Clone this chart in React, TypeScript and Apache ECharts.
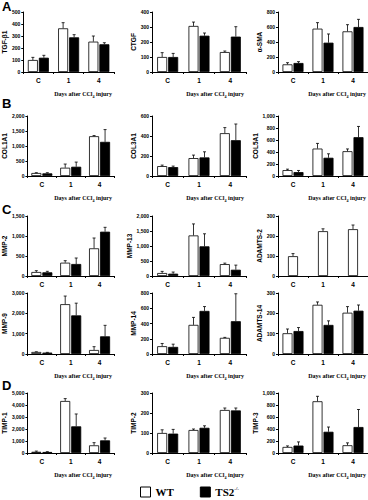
import React, { useEffect, useRef } from "react";
import * as echarts from "echarts";

// ---- data ----
const categories = ["C", "1", "4"];

const tgfWT = [100, 364, 253];
const tgfWTErr = [22, 47, 47];
const tgfTS = [119, 289, 231];
const tgfTSErr = [20, 22, 13];

const ctgfWT = [100, 307, 133];
const ctgfWTErr = [29, 26, 7];
const ctgfTS = [100, 242, 236];
const ctgfTSErr = [24, 18, 66];

const smaWT = [102, 578, 542];
const smaWTErr = [22, 80, 89];
const smaTS = [120, 391, 600];
const smaTSErr = [18, 116, 102];

const col1WT = [100, 276, 1326];
const col1WTErr = [10, 122, 22];
const col1TS = [88, 309, 1138];
const col1TSErr = [22, 155, 409];

const col3WT = [99, 179, 428];
const col3WTErr = [10, 30, 56];
const col3TS = [89, 186, 358];
const col3TSErr = [10, 56, 162];

const col5WT = [98, 457, 413];
const col5WTErr = [16, 86, 38];
const col5TS = [65, 304, 647];
const col5TSErr = [27, 66, 179];

const mmp2WT = [100, 333, 692];
const mmp2WTErr = [33, 50, 258];
const mmp2TS = [92, 300, 1108];
const mmp2TSErr = [25, 150, 109];

const mmp13WT = [99, 1352, 396];
const mmp13WTErr = [55, 384, 33];
const mmp13TS = [77, 989, 209];
const mmp13TSErr = [55, 418, 154];

const adamts2WT = [99, 224, 234];
const adamts2WTErr = [13, 12, 21];

const mmp9WT = [100, 2450, 197];
const mmp9WTErr = [10, 400, 163];
const mmp9TS = [70, 1900, 869];
const mmp9TSErr = [10, 600, 541];

const mmp14WT = [102, 382, 212];
const mmp14WTErr = [36, 98, 6];
const mmp14TS = [93, 565, 430];
const mmp14TSErr = [36, 57, 360];

const adamts14WT = [102, 242, 203];
const adamts14WTErr = [21, 14, 30];
const adamts14TS = [113, 143, 213];
const adamts14TSErr = [17, 20, 28];

const timp1WT = [100, 4333, 639];
const timp1WTErr = [60, 200, 222];
const timp1TS = [83, 2222, 1055];
const timp1TSErr = [28, 1030, 195];

const timp2WT = [100, 115, 215];
const timp2WTErr = [16, 5, 10];
const timp2TS = [97, 126, 213];
const timp2TSErr = [21, 10, 12];

const timp3WT = [101, 862, 129];
const timp3WTErr = [17, 83, 40];
const timp3TS = [124, 354, 433];
const timp3TSErr = [61, 79, 292];

const yNames = [
  "TGF-β1", "CTGF", "α-SMA",
  "COL1A1", "COL3A1", "COL5A1",
  "MMP-2", "MMP-13", "ADAMTS-2",
  "MMP-9", "MMP-14", "ADAMTS-14",
  "TIMP-1", "TIMP-2", "TIMP-3",
];
const yMax = [500, 400, 800, 2000, 600, 1000, 1500, 2000, 300, 3000, 800, 300, 5000, 300, 1000];
const yStep = [100, 100, 200, 500, 200, 200, 500, 500, 100, 1000, 200, 100, 1000, 100, 200];
const wtValues = [tgfWT, ctgfWT, smaWT, col1WT, col3WT, col5WT, mmp2WT, mmp13WT, adamts2WT, mmp9WT, mmp14WT, adamts14WT, timp1WT, timp2WT, timp3WT];
const wtErrors = [tgfWTErr, ctgfWTErr, smaWTErr, col1WTErr, col3WTErr, col5WTErr, mmp2WTErr, mmp13WTErr, adamts2WTErr, mmp9WTErr, mmp14WTErr, adamts14WTErr, timp1WTErr, timp2WTErr, timp3WTErr];
const tsValues = [tgfTS, ctgfTS, smaTS, col1TS, col3TS, col5TS, mmp2TS, mmp13TS, null, mmp9TS, mmp14TS, adamts14TS, timp1TS, timp2TS, timp3TS];
const tsErrors = [tgfTSErr, ctgfTSErr, smaTSErr, col1TSErr, col3TSErr, col5TSErr, mmp2TSErr, mmp13TSErr, null, mmp9TSErr, mmp14TSErr, adamts14TSErr, timp1TSErr, timp2TSErr, timp3TSErr];
const showDaysTitle = [true, true, true, true, true, true, false, false, false, true, true, true, true, true, true];
const panelLetters = ["A", "B", "C", "D"];

// ---- layout ----
const rowTops = [12, 116, 216, 293, 393];
const rowHeights = [60, 60, 60, 61, 60];
const colLefts = [23, 152, 278];
const colWidths = [91, 94, 90];
const letterTops = [0, 97, 203, 379];
const BAR_W = 10;
const SANS = "'Liberation Sans', Arial, sans-serif";
const SERIF = "'Liberation Serif', 'Times New Roman', serif";

function buildOption() {
  const grid: any[] = [];
  const xAxis: any[] = [];
  const yAxis: any[] = [];
  const series: any[] = [];
  const graphic: any[] = [];

  yNames.forEach((name, i) => {
    const row = Math.floor(i / 3);
    const col = i % 3;
    const left = colLefts[col];
    const top = rowTops[row];
    const width = colWidths[col];
    const height = rowHeights[row];
    grid.push({ left, top, width, height, containLabel: false });
    xAxis.push({
      type: "category",
      gridIndex: i,
      data: categories,
      axisLine: { lineStyle: { color: "#000", width: 1 } },
      axisTick: { show: true, length: 2, lineStyle: { color: "#000" } },
      axisLabel: { color: "#000", fontSize: 6.5, fontWeight: "bold", fontFamily: SANS, margin: 5 },
      splitLine: { show: false },
    });
    yAxis.push({
      type: "value",
      gridIndex: i,
      min: 0,
      max: yMax[i],
      interval: yStep[i],
      name,
      nameLocation: "middle",
      nameGap: 12,
      nameRotate: 90,
      nameTextStyle: { color: "#000", fontSize: 6.5, fontWeight: "bold", fontFamily: SANS },
      axisLine: { show: true, lineStyle: { color: "#000", width: 1 } },
      axisTick: { show: true, length: 2, lineStyle: { color: "#000" } },
      axisLabel: { color: "#000", fontSize: 5, fontWeight: "bold", fontFamily: SANS, margin: 3 },
      splitLine: { show: false },
    });

    const hasTS = !!tsValues[i];
    series.push({
      name: "WT",
      type: "bar",
      xAxisIndex: i,
      yAxisIndex: i,
      data: wtValues[i],
      barWidth: BAR_W,
      barGap: "10%",
      itemStyle: { color: "#fff", borderColor: "#000", borderWidth: 0.8 },
      z: 2,
    });
    if (hasTS) {
      series.push({
        name: "TS2-/-",
        type: "bar",
        xAxisIndex: i,
        yAxisIndex: i,
        data: tsValues[i],
        barWidth: BAR_W,
        barGap: "10%",
        itemStyle: { color: "#000", borderColor: "#000", borderWidth: 0.8 },
        z: 2,
      });
    }
    const groups: Array<[number[], number[], number]> = hasTS
      ? [
          [wtValues[i], wtErrors[i] as number[], -(BAR_W / 2 + 0.5)],
          [tsValues[i] as number[], tsErrors[i] as number[], BAR_W / 2 + 0.5],
        ]
      : [[wtValues[i], wtErrors[i] as number[], 0]];
    groups.forEach(([vals, errs, off], gi) => {
      series.push({
        name: "err" + i + "_" + gi,
        type: "custom",
        xAxisIndex: i,
        yAxisIndex: i,
        z: 5,
        data: vals.map((v, k) => [k, v, v + errs[k]]),
        renderItem: (params: any, api: any) => {
          const c = api.value(0);
          const p0 = api.coord([c, api.value(1)]);
          const p1 = api.coord([c, api.value(2)]);
          const x = p0[0] + off;
          return {
            type: "group",
            children: [
              { type: "line", shape: { x1: x, y1: p0[1], x2: x, y2: p1[1] }, style: { stroke: "#000", lineWidth: 0.8 } },
              { type: "line", shape: { x1: x - 1.5, y1: p1[1], x2: x + 1.5, y2: p1[1] }, style: { stroke: "#000", lineWidth: 0.8 } },
            ],
          };
        },
      });
    });

    if (showDaysTitle[i]) {
      graphic.push({
        type: "text",
        x: left + width - 2,
        y: top + height + 22,
        style: {
          text: "{t|Days after CCl}{s|4}{t| injury}",
          align: "right",
          verticalAlign: "middle",
          rich: {
            t: { fontSize: 6, fontWeight: "bold", fontFamily: SERIF, fill: "#000", lineHeight: 8 },
            s: { fontSize: 4, fontWeight: "bold", fontFamily: SERIF, fill: "#000", verticalAlign: "bottom", lineHeight: 8, padding: [3, 0, 0, 0] },
          },
        },
      });
    }
  });

  panelLetters.forEach((L, k) => {
    graphic.push({
      type: "text",
      x: 2,
      y: letterTops[k],
      style: { text: L, fontSize: 13, fontWeight: "bold", fontFamily: SANS, fill: "#000", verticalAlign: "top" },
    });
  });

  return {
    animation: false,
    backgroundColor: "#fff",
    grid,
    xAxis,
    yAxis,
    series,
    graphic,
    legend: {
      left: 140,
      top: 486,
      padding: 0,
      itemWidth: 10,
      itemHeight: 10,
      itemGap: 26,
      icon: "rect",
      selectedMode: false,
      data: [
        { name: "WT", itemStyle: { color: "#fff", borderColor: "#000", borderWidth: 1 } },
        { name: "TS2-/-", itemStyle: { color: "#000", borderColor: "#000", borderWidth: 1 } },
      ],
      formatter: (n: string) => (n === "WT" ? "{b|WT}" : "{b|TS2}{s|-/-}"),
      textStyle: {
        rich: {
          b: { fontSize: 11, fontWeight: "bold", fontFamily: SERIF, color: "#000", lineHeight: 12 },
          s: { fontSize: 5, fontWeight: "bold", fontFamily: SERIF, color: "#000", verticalAlign: "top", lineHeight: 12, padding: [0, 0, 5, 0] },
        },
      },
    },
  };
}

export default function App() {
  const ref = useRef<HTMLDivElement>(null);
  useEffect(() => {
    if (!ref.current) return;
    const chart = echarts.init(ref.current, undefined, { renderer: "svg" });
    chart.setOption(buildOption() as any);
    return () => chart.dispose();
  }, []);
  return (
    <div
      ref={ref}
      style={{ position: "fixed", left: 0, top: 0, width: 368, height: 500, background: "#fff" }}
    />
  );
}
